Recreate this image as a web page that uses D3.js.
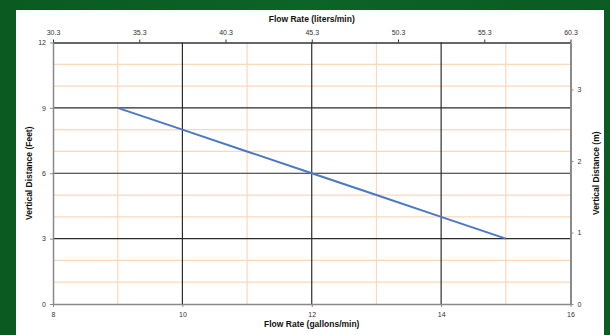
<!DOCTYPE html>
<html><head><meta charset="utf-8">
<script src="https://cdn.jsdelivr.net/npm/d3@7"></script>
<style>
html,body{margin:0;padding:0;background:#0b5e25;}
svg{display:block;font-family:"Liberation Sans",Arial,sans-serif;}
</style></head>
<body>
<svg id="c" width="610" height="335"></svg>
<script>
// Data
const gallons = [9, 10, 11, 12, 13, 14, 15];
const feet = [9, 8, 7, 6, 5, 4, 3];
const bottomTicks = [8, 10, 12, 14, 16];
const topTicks = [30.3, 35.3, 40.3, 45.3, 50.3, 55.3, 60.3];
const leftTicks = [0, 3, 6, 9, 12];
const rightTicks = [0, 1, 2, 3];
const majorX = [10, 12, 14];
const minorX = [9, 11, 13, 15];
const majorY = [3, 6, 9];
const minorY = [1, 2, 4, 5, 7, 8, 10, 11];

const svg = d3.select("#c");
// background
const bg = svg.append("defs").append("linearGradient").attr("id","g").attr("x1",0).attr("x2",1).attr("y1",0).attr("y2",0);
bg.append("stop").attr("offset","0%").attr("stop-color","#0a5a22");
bg.append("stop").attr("offset","50%").attr("stop-color","#0c6427");
bg.append("stop").attr("offset","100%").attr("stop-color","#0a5c23");
svg.append("rect").attr("width",610).attr("height",335).attr("fill","url(#g)");
svg.append("rect").attr("x",16).attr("y",10).attr("width",588).attr("height",325).attr("fill","#fff");

const L = 53, R = 570.5, T = 42.5, B = 304;
const x = d3.scaleLinear().domain([8,16]).range([L,R]);
const xTop = d3.scaleLinear().domain([30.3,60.3]).range([L,R]);
const y = d3.scaleLinear().domain([0,12]).range([B,T]);
const yR = d3.scaleLinear().domain([0,12*0.3048]).range([B,T]);

const g = svg.append("g");
// minor grid
g.selectAll(".mx").data(minorX).join("line")
  .attr("x1",d=>x(d)).attr("x2",d=>x(d)).attr("y1",T).attr("y2",B)
  .attr("stroke","#fcd7b8").attr("stroke-width",1.2);
g.selectAll(".my").data(minorY).join("line")
  .attr("y1",d=>y(d)).attr("y2",d=>y(d)).attr("x1",L).attr("x2",R)
  .attr("stroke","#fcd7b8").attr("stroke-width",1.2);
// major grid
g.selectAll(".Mx").data(majorX).join("line")
  .attr("x1",d=>x(d)).attr("x2",d=>x(d)).attr("y1",T).attr("y2",B)
  .attr("stroke","#1a1a1a").attr("stroke-width",1.1);
g.selectAll(".My").data(majorY).join("line")
  .attr("y1",d=>y(d)).attr("y2",d=>y(d)).attr("x1",L).attr("x2",R)
  .attr("stroke","#2a2a2a").attr("stroke-width",1.1);

function styleAxis(sel, col, w){
  sel.select(".domain").attr("stroke",col).attr("stroke-width",w);
  sel.selectAll(".tick line").attr("stroke",col);
  sel.selectAll(".tick text").attr("fill","#333").style("font-size","7px")
     .style("font-family","'Liberation Sans',Arial,sans-serif");
}
// axes
const ax1 = svg.append("g").attr("transform",`translate(0,${B})`)
  .call(d3.axisBottom(x).tickValues(bottomTicks).tickSize(3).tickSizeOuter(0).tickPadding(5).tickFormat(d3.format("d")));
styleAxis(ax1,"#8a8a8a",1.5);
const ax2 = svg.append("g").attr("transform",`translate(0,${T})`)
  .call(d3.axisTop(xTop).tickValues(topTicks).tickSize(3).tickSizeOuter(0).tickFormat(d3.format(".1f")).tickPadding(5));
styleAxis(ax2,"#333",1.5);
const ax3 = svg.append("g").attr("transform",`translate(${L},0)`)
  .call(d3.axisLeft(y).tickValues(leftTicks).tickSize(3).tickSizeOuter(0).tickPadding(4).tickFormat(d3.format("d")));
styleAxis(ax3,"#8a8a8a",1.5);
const ax4 = svg.append("g").attr("transform",`translate(${R},0)`)
  .call(d3.axisRight(yR).tickValues(rightTicks).tickSize(3).tickSizeOuter(0).tickPadding(4).tickFormat(d3.format("d")));
styleAxis(ax4,"#8a8a8a",2);

// line
const pts = gallons.map((v,i)=>[v,feet[i]]);
svg.append("path").datum(pts)
  .attr("d", d3.line().x(d=>x(d[0])).y(d=>y(d[1])))
  .attr("fill","none").attr("stroke","#4a78c8").attr("stroke-width",2);

// titles
const tf = {"font-size":"8.5px","font-weight":"bold","fill":"#111"};
function title(t, tx, ty, rot){
  const e = svg.append("text").text(t).attr("text-anchor","middle")
   .attr("transform",`translate(${tx},${ty})` + (rot?` rotate(${rot})`:""));
  Object.entries(tf).forEach(([k,v])=>e.style(k,v));
}
title("Flow Rate (liters/min)", (L+R)/2, 22, 0);
title("Flow Rate (gallons/min)", (L+R)/2, 327, 0);
title("Vertical Distance (Feet)", 32, (T+B)/2, -90);
title("Vertical Distance (m)", 599, (T+B)/2, -90);
</script>
</body></html>
